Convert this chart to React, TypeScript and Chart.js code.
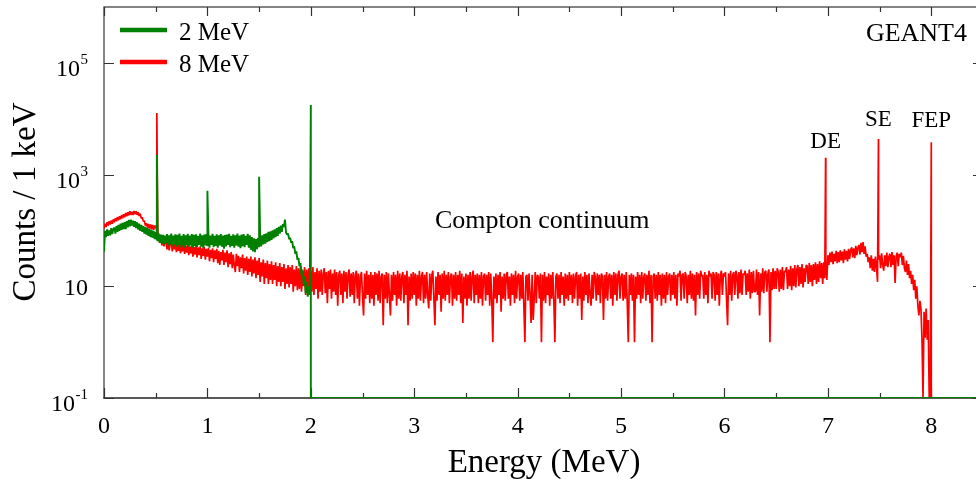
import React, { useEffect, useRef } from 'react';
import { Chart, registerables } from 'chart.js';

Chart.register(...registerables);

// Spectrum bins: index i corresponds to energy i * ENERGY_STEP (MeV)
const ENERGY_STEP = 0.01;

// 8 MeV gamma spectrum, continuum counts per 1 keV, one row per 0.1 MeV (0.00 .. 7.99 MeV)
const redCounts = [
  108, 132, 115, 140, 122, 146, 128, 150, 132, 158,
  140, 165, 146, 172, 152, 180, 158, 188, 165, 195,
  172, 205, 180, 212, 186, 220, 190, 215, 188, 222,
  196, 220, 190, 212, 182, 200, 165, 172, 145, 150,
  122, 135, 112, 130, 108, 128, 105, 126, 102, 122,
  118, 98, 92, 68, 60, 72, 54, 66, 52, 64,
  62, 46, 60, 44, 58, 64, 42, 58, 46, 61,
  41, 57, 43, 59, 39, 55, 42, 58, 38, 54,
  40, 55, 36, 52, 39, 54, 34, 51, 37, 53,
  33, 50, 36, 52, 31, 48, 35, 51, 30, 47,
  34, 49, 28, 45, 32, 48, 27, 44, 31, 47,
  26, 43, 24, 41, 29, 45, 24, 40, 27, 44,
  22, 39, 25, 41, 21, 37, 24, 18, 38, 23,
  35, 18, 33, 21, 37, 17, 32, 19, 34, 16,
  31, 18, 34, 15, 30, 17, 33, 14, 29, 16,
  32, 12, 27, 15, 30, 11, 26, 14, 29, 11,
  25, 13, 28, 11, 24, 13, 27, 10, 23, 12,
  26, 10, 22, 12, 25, 9, 21, 11, 24, 9.5,
  22, 11, 24, 8, 20, 10, 23, 8.5, 21, 9,
  23, 8, 19, 10, 22, 7, 20, 9, 21, 7.5,
  19, 8, 22, 7, 18, 9, 21, 6, 19, 8,
  20, 7, 17, 21, 7.5, 18, 5, 19, 9, 20,
  6, 17, 8, 20, 7, 18, 4.5, 16, 19, 7,
  17, 5, 19, 8, 18, 6, 16, 20, 6.5, 17,
  7, 18, 5, 16, 19, 6, 17, 4.5, 15, 18,
  6.5, 3, 17, 6, 19, 7, 16, 5, 18, 6,
  16, 4.5, 18, 7, 17, 5.5, 19, 5, 15, 17,
  2, 16, 6, 18, 5, 17, 7, 3, 16, 5.5,
  18, 7, 16, 4.5, 19, 6, 17, 5.5, 15, 18,
  5, 16, 7, 19, 2, 15, 5.5, 17, 6, 18,
  7, 17, 4.5, 16, 6, 19, 5.5, 15, 18, 5,
  16, 6, 18, 7, 4, 17, 5.5, 16, 19, 6,
  2, 15, 5.5, 18, 7, 16, 3.5, 17, 6, 19,
  5.5, 16, 7, 18, 5, 15, 17, 4.5, 16, 6,
  18, 5.5, 16, 7, 19, 5, 17, 2.2, 15, 6,
  17, 4.5, 16, 6, 18, 5.5, 15, 19, 5, 16,
  7, 17, 5, 16, 6, 18, 4.5, 15, 17, 5.5,
  16, 7, 18, 4.5, 17, 5.5, 1, 15, 6, 17,
  5, 16, 7, 18, 3.5, 15, 6, 17, 5.5, 16,
  18, 6, 15, 4.5, 17, 7, 16, 5, 19, 6,
  15, 17, 5.5, 16, 6, 18, 4.5, 1, 15, 16,
  5.5, 17, 7, 2.2, 16, 2.5, 6, 18, 5, 16,
  15, 6, 17, 1, 16, 5.5, 18, 5, 15, 7,
  17, 4.5, 16, 6, 18, 5.5, 1, 15, 17, 6,
  16, 5, 18, 7, 15, 4.5, 17, 6, 16, 5.5,
  18, 7, 16, 5, 17, 6, 15, 18, 4.5, 16,
  6, 17, 2.5, 15, 5.5, 18, 7, 16, 5, 17,
  7, 4.5, 16, 6, 18, 15, 5.5, 17, 7, 16,
  5, 17, 15, 2.5, 16, 6, 18, 5.5, 15, 17,
  6, 16, 4.5, 18, 7, 17, 5.5, 16, 19, 6,
  15, 17, 5.5, 16, 6, 18, 5, 1, 16, 7,
  17, 5.5, 16, 1, 15, 6, 18, 7, 16, 5,
  18, 6, 15, 17, 5.5, 16, 7, 19, 5, 16,
  1, 15, 17, 6, 16, 5.5, 18, 7, 16, 4.5,
  17, 6, 16, 5, 18, 7, 15, 17, 5.5, 16,
  7, 18, 6, 16, 4.5, 17, 15, 19, 5.5, 16,
  17, 6, 18, 15, 5, 16, 7, 19, 6, 17,
  5.5, 16, 3, 18, 7, 17, 6, 19, 15, 16,
  6, 18, 7, 16, 5, 19, 15, 17, 6, 18,
  16, 5.5, 18, 7, 17, 4.5, 16, 19, 7, 17,
  15, 18, 6, 2, 17, 7, 19, 5.5, 16, 18,
  7, 19, 16, 6, 18, 7.5, 20, 7, 17, 16,
  19, 7, 17, 8, 20, 6, 18, 7.5, 19, 8,
  8, 20, 7, 18, 3, 17, 8, 21, 7.5, 18,
  19, 8, 17, 20, 1, 18, 8.5, 21, 9, 19,
  9, 21, 18, 8, 20, 9, 22, 8.5, 19, 18,
  22, 9, 20, 10, 23, 8.5, 21, 10, 24, 9.5,
  20, 24, 10, 22, 11, 25, 9.5, 21, 12, 24,
  23, 11, 26, 12, 24, 10, 25, 13, 27, 11,
  25, 12, 28, 14, 26, 11, 27, 14, 29, 13,
  36, 24, 40, 27, 42, 25, 38, 28, 43, 26,
  41, 27, 44, 29, 42, 26, 46, 30, 43, 28,
  47, 31, 44, 50, 33, 48, 32, 53, 36, 49,
  55, 37, 60, 41, 62, 38, 52, 34, 38, 27,
  33, 21, 36, 19, 31, 18, 34, 22, 12, 30,
  36, 21, 39, 24, 19, 36, 23, 40, 22, 34,
  38, 22, 41, 24, 36, 11.5, 34, 40, 23, 38,
  33, 40, 24, 35, 21, 18, 29, 16, 25, 14,
  19, 11, 16, 8.5, 13, 6, 10, 4.5, 3, 5.5,
  4, 1.1, 0.1, 3.5, 1.2, 4, 1.1, 2.5, 0.1, 0.1,
];

// Peaks (annihilation, DE, SE, FEP) and empty bins after the full-energy peak
const redPeakEnergies = [0.511, 6.978, 7.489, 8.0, 8.0, 8.5];
const redPeakCounts = [12600, 2000, 4340, 3780, 0.1, 0.1];

// 2 MeV gamma spectrum, continuum counts per 1 keV, one row per 0.1 MeV (0.00 .. 1.99 MeV)
const greenCounts = [
  42, 98, 76, 104, 80, 100, 82, 110, 86, 106,
  112, 88, 120, 94, 126, 98, 132, 102, 136, 106,
  140, 106, 146, 114, 154, 118, 156, 122, 150, 116,
  146, 110, 140, 104, 132, 98, 126, 94, 120, 88,
  116, 84, 110, 80, 106, 76, 102, 74, 98, 70,
  94, 68, 64, 88, 60, 84, 58, 83, 56, 81,
  60, 86, 54, 82, 57, 88, 52, 81, 56, 85,
  51, 83, 55, 88, 50, 80, 54, 86, 49, 82,
  55, 87, 51, 81, 54, 86, 49, 83, 53, 85,
  50, 80, 55, 88, 51, 82, 48, 84, 54, 86,
  52, 83, 49, 81, 55, 87, 50, 80, 53, 85,
  49, 82, 54, 86, 51, 81, 47, 83, 52, 84,
  55, 87, 50, 80, 53, 85, 49, 82, 54, 88,
  51, 81, 48, 84, 52, 86, 50, 80, 55, 87,
  49, 82, 45, 76, 42, 72, 41, 70, 46, 74,
  50, 78, 52, 82, 56, 86, 58, 89, 62, 94,
  64, 96, 68, 100, 72, 104, 76, 110, 80, 116,
  88, 122, 94, 130, 116, 156, 92, 84, 88, 70,
  74, 60, 64, 48, 52, 38, 42, 30, 32, 23,
  26, 16, 20, 11, 15, 7.5, 12, 6.5, 10, 7,
];
const greenPeakEnergies = [0.511, 1.0, 1.5, 2.0, 2.0, 8.5];
const greenPeakCounts = [2240, 515, 915, 17600, 0.1, 0.1];

const seriesLabels = ['2 MeV', '8 MeV'];
const seriesColors = ['#008000', '#ff0000'];

const xTickValues = [0, 1, 2, 3, 4, 5, 6, 7, 8];
const xMinorTickValues = [0.5, 1.5, 2.5, 3.5, 4.5, 5.5, 6.5, 7.5];
const yTickValues = [0.1, 10, 1000, 100000];
const yTickExponents = ['-1', '', '3', '5'];

const peakLabels = ['DE', 'SE', 'FEP'];
const peakLabelEnergies = [6.978, 7.489, 8.0];

const SERIF = '"Liberation Serif", "Times New Roman", serif';

function buildPoints(counts: number[], extraE: number[], extraC: number[]) {
  const pts = counts.map((c, i) => ({ x: +(i * ENERGY_STEP).toFixed(3), y: c }));
  extraE.forEach((e, k) => pts.push({ x: e, y: extraC[k] }));
  return pts.sort((a, b) => a.x - b.x);
}

const decorPlugin = {
  id: 'decor',
  beforeDatasetsDraw(chart: any) {
    const { ctx, chartArea: a, scales } = chart;
    const xs = scales.x;
    const ys = scales.y;
    ctx.save();
    ctx.lineWidth = 1.5;
    ctx.strokeStyle = '#5c5c5c';
    ctx.beginPath();
    ctx.moveTo(a.left, a.bottom);
    ctx.lineTo(a.left, a.top);
    ctx.lineTo(a.right, a.top);
    ctx.lineTo(a.right, a.bottom);
    ctx.stroke();
    ctx.strokeStyle = '#222';
    ctx.beginPath();
    ctx.moveTo(a.left - 0.75, a.bottom);
    ctx.lineTo(a.right, a.bottom);
    ctx.stroke();
    ctx.lineWidth = 1.2;
    ctx.strokeStyle = '#333';
    ctx.beginPath();
    xTickValues.forEach((v) => {
      const px = Math.round(xs.getPixelForValue(v)) + 0.5;
      ctx.moveTo(px, a.bottom);
      ctx.lineTo(px, a.bottom - 10);
      ctx.moveTo(px, a.top);
      ctx.lineTo(px, a.top + 9);
    });
    xMinorTickValues.forEach((v) => {
      const px = Math.round(xs.getPixelForValue(v)) + 0.5;
      ctx.moveTo(px, a.bottom);
      ctx.lineTo(px, a.bottom - 5);
      ctx.moveTo(px, a.top);
      ctx.lineTo(px, a.top + 5);
    });
    yTickValues.forEach((v) => {
      const py = Math.round(ys.getPixelForValue(v)) + 0.5;
      ctx.moveTo(a.left, py);
      ctx.lineTo(a.left + 10, py);
      ctx.moveTo(a.right, py);
      ctx.lineTo(a.right - 10, py);
    });
    ctx.stroke();
    ctx.restore();
  },
  afterDraw(chart: any) {
    const { ctx, scales } = chart;
    const xs = scales.x;
    const ys = scales.y;
    ctx.save();
    ctx.fillStyle = '#000';
    ctx.textBaseline = 'alphabetic';
    yTickValues.forEach((v, i) => {
      const py = ys.getPixelForValue(v);
      const exp = yTickExponents[i];
      const right = 88;
      ctx.textAlign = 'right';
      if (!exp) {
        ctx.font = `24px ${SERIF}`;
        ctx.fillText('10', right, py + 9);
      } else {
        ctx.font = `15px ${SERIF}`;
        const w = ctx.measureText(exp).width;
        ctx.fillText(exp, right, py + 1);
        ctx.font = `24px ${SERIF}`;
        ctx.fillText('10', right - w - 0.5, py + 13);
      }
    });
    ctx.font = `33px ${SERIF}`;
    ctx.textAlign = 'center';
    ctx.fillText('Energy (MeV)', 544, 472);
    ctx.save();
    ctx.translate(35, 202);
    ctx.rotate(-Math.PI / 2);
    ctx.fillText('Counts / 1 keV', 0, 0);
    ctx.restore();
    const ds = chart.data.datasets;
    [30, 62].forEach((ly, i) => {
      ctx.strokeStyle = ds[i].borderColor;
      ctx.lineWidth = 4.5;
      ctx.beginPath();
      ctx.moveTo(120, ly);
      ctx.lineTo(167, ly);
      ctx.stroke();
      ctx.font = `25px ${SERIF}`;
      ctx.textAlign = 'left';
      ctx.fillStyle = '#000';
      ctx.fillText(ds[i].label, 179, ly + 10);
    });
    ctx.font = `26px ${SERIF}`;
    ctx.textAlign = 'right';
    ctx.fillText('GEANT4', 967, 41);
    ctx.textAlign = 'left';
    ctx.fillText('Compton continuum', 435, 228);
    ctx.font = `23px ${SERIF}`;
    ctx.textAlign = 'center';
    const labelBaselines = [148, 126, 127];
    peakLabels.forEach((t, i) => {
      const px = xs.getPixelForValue(peakLabelEnergies[i]);
      ctx.fillText(t, px, labelBaselines[i]);
    });
    ctx.restore();
  },
};

export default function App() {
  const ref = useRef<HTMLCanvasElement>(null);
  useEffect(() => {
    document.body.style.margin = '0';
    const canvas = ref.current;
    if (!canvas) return;
    const chart = new Chart(canvas, {
      type: 'line',
      data: {
        datasets: [
          {
            label: seriesLabels[0],
            data: buildPoints(greenCounts, greenPeakEnergies, greenPeakCounts),
            borderColor: seriesColors[0],
            borderWidth: 1.9,
            borderJoinStyle: 'bevel',
            pointRadius: 0,
            tension: 0,
          },
          {
            label: seriesLabels[1],
            data: buildPoints(redCounts, redPeakEnergies, redPeakCounts),
            borderColor: seriesColors[1],
            borderWidth: 1.7,
            borderJoinStyle: 'bevel',
            pointRadius: 0,
            tension: 0,
          },
        ],
      },
      options: {
        responsive: false,
        animation: false,
        devicePixelRatio: 1,
        layout: { padding: { top: 7, right: 7, left: 0, bottom: 0 } },
        plugins: { legend: { display: false }, tooltip: { enabled: false } },
        scales: {
          x: {
            type: 'linear',
            min: 0,
            max: 8.5,
            afterFit: (s: any) => {
              s.height = 81;
            },
            afterBuildTicks: (s: any) => {
              s.ticks = xTickValues.map((v) => ({ value: v }));
            },
            grid: { display: false, drawTicks: false },
            border: { display: false },
            ticks: {
              includeBounds: false,
              autoSkip: false,
              maxRotation: 0,
              padding: 14,
              color: '#000',
              font: { family: SERIF, size: 24 },
              callback: (v: any) => String(v),
            },
          },
          y: {
            type: 'logarithmic',
            min: 0.1,
            max: 1e6,
            afterFit: (s: any) => {
              s.width = 104;
            },
            grid: { display: false, drawTicks: false },
            border: { display: false },
            ticks: { display: false },
          },
        },
      },
      plugins: [decorPlugin],
    });
    return () => chart.destroy();
  }, []);
  return (
    <div style={{ width: 976, height: 479, overflow: 'hidden', position: 'relative' }}>
      <canvas ref={ref} width={990} height={479} style={{ display: 'block' }} />
    </div>
  );
}
